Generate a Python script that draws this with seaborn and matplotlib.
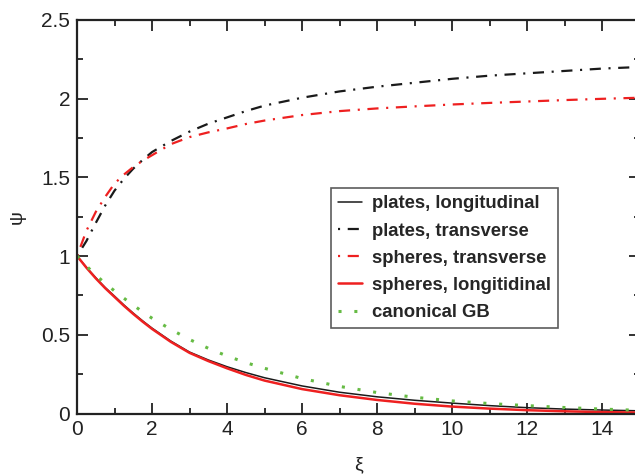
import numpy as np
import pandas as pd
import matplotlib
matplotlib.use("Agg")
import matplotlib.pyplot as plt
import seaborn as sns
from matplotlib.ticker import MultipleLocator

# Values
xi = [0, 0.25, 0.5, 0.75, 1, 1.25, 1.5, 1.75, 2, 2.5, 3, 3.5, 4, 4.5, 5,
      6, 7, 8, 9, 10, 11, 12, 13, 14, 15]
plates_long = [1.0, 0.928, 0.862, 0.80, 0.745, 0.689, 0.637, 0.588, 0.542, 0.46, 0.39,
               0.34, 0.297, 0.26, 0.227, 0.175, 0.135, 0.106, 0.084, 0.066, 0.05,
               0.037, 0.028, 0.022, 0.017]
plates_trans = [1.0, 1.095, 1.21, 1.32, 1.415, 1.49, 1.555, 1.61, 1.66, 1.73, 1.79,
                1.84, 1.88, 1.92, 1.955, 2.005, 2.045, 2.075, 2.10, 2.125, 2.145,
                2.16, 2.175, 2.19, 2.20]
spheres_trans = [1.0, 1.16, 1.28, 1.375, 1.46, 1.517, 1.565, 1.605, 1.64, 1.71, 1.755,
                 1.785, 1.81, 1.838, 1.86, 1.895, 1.92, 1.937, 1.95, 1.962, 1.972,
                 1.981, 1.99, 1.998, 2.005]
spheres_long = [1.0, 0.926, 0.858, 0.796, 0.74, 0.684, 0.632, 0.583, 0.537, 0.455, 0.385,
                0.333, 0.287, 0.245, 0.209, 0.155, 0.116, 0.086, 0.062, 0.044, 0.031,
                0.021, 0.014, 0.009, 0.006]
canonical_gb = [1.0, 0.937, 0.878, 0.827, 0.778, 0.732, 0.688, 0.645, 0.605, 0.534, 0.47,
                0.414, 0.365, 0.323, 0.287, 0.222, 0.172, 0.133, 0.103, 0.08, 0.063,
                0.05, 0.038, 0.028, 0.02]

df = pd.DataFrame({"xi": xi, "plates_long": plates_long, "plates_trans": plates_trans,
                   "spheres_trans": spheres_trans, "spheres_long": spheres_long,
                   "canonical_gb": canonical_gb})

sns.set_theme(style="ticks")
plt.rcParams["font.family"] = ["Liberation Sans", "DejaVu Sans"]
plt.rcParams["lines.scale_dashes"] = False

fig = plt.figure(figsize=(6.35, 4.76), dpi=100)
ax = fig.add_axes([0.1213, 0.1313, 0.886, 0.8272])

black = "#1a1a1a"
red = "#ee2020"
green = "#66bb44"
dashdot = (0, (1.5, 5.5, 8, 5.5))

sns.lineplot(data=df, x="xi", y="plates_long", ax=ax, color=black, lw=1.1,
             label="plates, longitudinal")
sns.lineplot(data=df, x="xi", y="plates_trans", ax=ax, color=black, lw=1.6,
             linestyle=dashdot, label="plates, transverse")
sns.lineplot(data=df, x="xi", y="spheres_trans", ax=ax, color=red, lw=1.6,
             linestyle=dashdot, label="spheres, transverse")
sns.lineplot(data=df, x="xi", y="spheres_long", ax=ax, color=red, lw=1.8,
             label="spheres, longitidinal")
sns.lineplot(data=df, x="xi", y="canonical_gb", ax=ax, color=green, lw=2.2,
             linestyle=(0, (2.2, 9.2)), label="canonical GB")

ax.set_xlim(0, 15)
ax.set_ylim(0, 2.5)
ax.xaxis.set_major_locator(MultipleLocator(2))
ax.xaxis.set_minor_locator(MultipleLocator(1))
ax.yaxis.set_major_locator(MultipleLocator(0.5))
ax.yaxis.set_minor_locator(MultipleLocator(0.25))
ax.set_yticks([0, 0.5, 1, 1.5, 2, 2.5])
ax.set_yticklabels(["0", "0.5", "1", "1.5", "2", "2.5"])

ax.tick_params(which="both", direction="in", top=True, right=True,
               labelsize=15, colors="#222222", width=1.3)
ax.tick_params(which="major", length=8, pad=5)
ax.tick_params(which="minor", length=4)
for s in ax.spines.values():
    s.set_linewidth(1.6)
    s.set_color("#222222")

ax.set_xlabel("ξ", fontsize=14, labelpad=12, color="#222222")
ax.set_ylabel("ψ", fontsize=14, labelpad=11, color="#222222")

leg = ax.legend(loc="upper left", bbox_to_anchor=(0.4516, 0.5727), borderaxespad=0,
                frameon=True, fancybox=False, prop={"weight": "bold", "size": 13.3},
                handlelength=1.25, handletextpad=0.55, labelspacing=0.55, borderpad=0.4)
leg.get_frame().set_edgecolor("#333333")
leg.get_frame().set_linewidth(1.2)

fig.savefig("out.png", dpi=100)
